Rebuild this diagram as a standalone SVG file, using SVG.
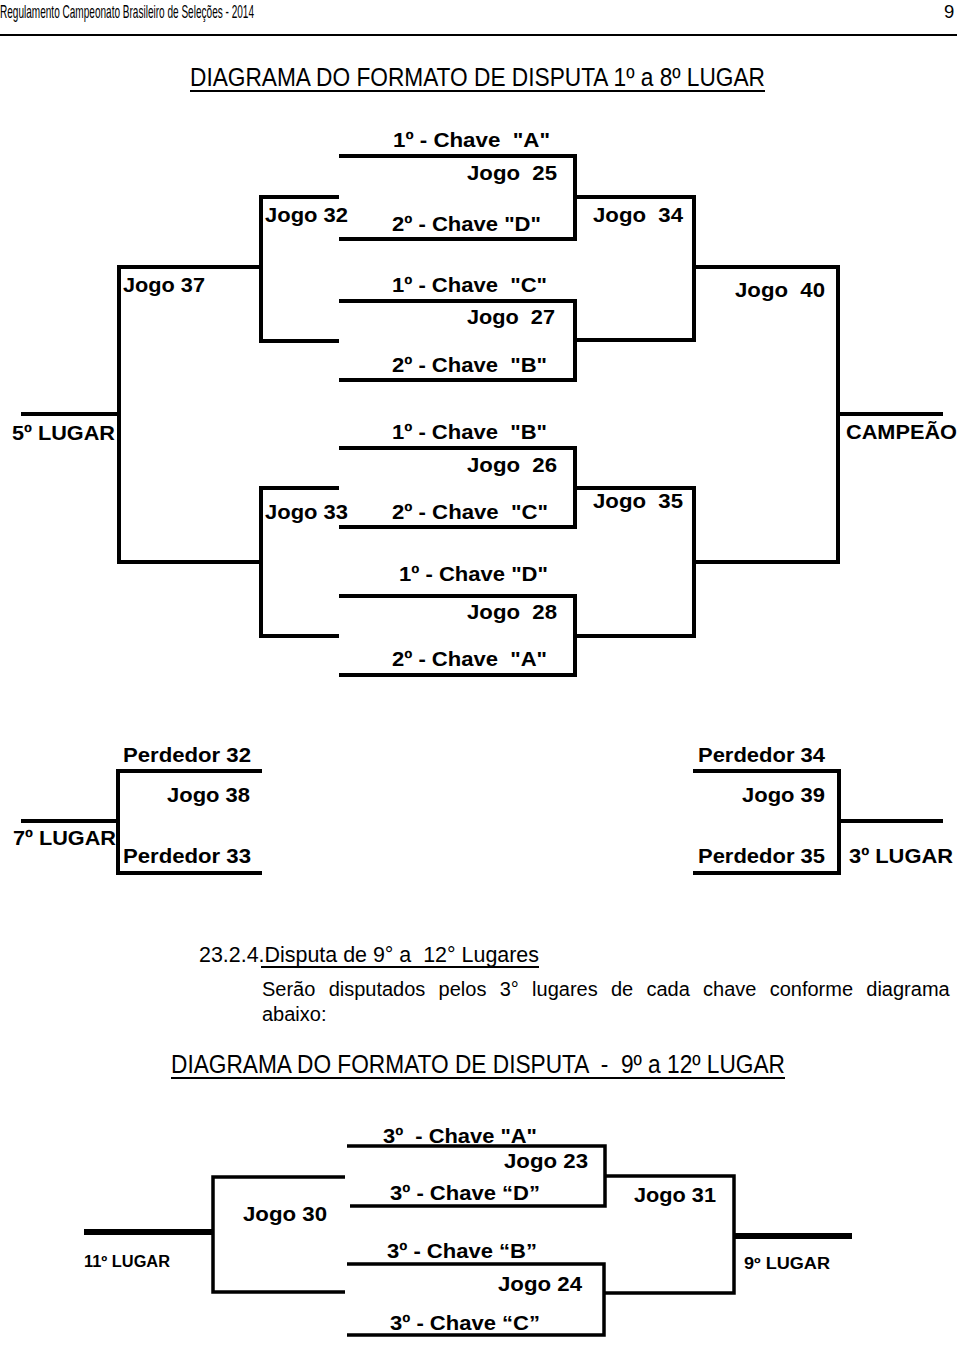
<svg xmlns="http://www.w3.org/2000/svg" width="960" height="1367" viewBox="0 0 960 1367">
<style>
.t{font-family:"Liberation Sans",Arial,sans-serif;font-weight:bold;font-size:20px;fill:#000;white-space:pre}
.s{font-size:16px}
.h{font-family:"Liberation Sans",Arial,sans-serif;font-weight:normal;fill:#000;white-space:pre}
.c{fill:none;stroke:#000;stroke-width:4;stroke-linejoin:miter}
.c2{fill:none;stroke:#000;stroke-width:3.5;stroke-linejoin:miter}
.k{fill:none;stroke:#000;stroke-width:6}
.u{stroke:#000;stroke-width:2}
</style>
<rect width="960" height="1367" fill="#fff"/>
<g id="header">
<text class="h" x="0" y="18" font-size="18.5" textLength="254" lengthAdjust="spacingAndGlyphs">Regulamento Campeonato Brasileiro de Seleções - 2014</text>
<text class="h" x="944" y="18" font-size="18.5">9</text>
<line class="u" x1="0" y1="35" x2="957" y2="35"/>
<text class="h" x="190" y="86" font-size="25" textLength="575" lengthAdjust="spacingAndGlyphs">DIAGRAMA DO FORMATO DE DISPUTA 1º a 8º LUGAR</text>
<line class="u" x1="190" y1="91" x2="765" y2="91"/>
</g>
<g id="connectors">
<polyline class="c" points="339,156 575,156 575,239 339,239"/>
<polyline class="c" points="339,301 575,301 575,380 339,380"/>
<polyline class="c" points="339,448 575,448 575,527 339,527"/>
<polyline class="c" points="339,596 575,596 575,675 339,675"/>
<polyline class="c" points="339,197 261,197 261,341 339,341"/>
<polyline class="c" points="339,488 261,488 261,636 339,636"/>
<polyline class="c" points="261,267 119,267 119,562 261,562"/>
<line class="c" x1="21" y1="414" x2="119" y2="414"/>
<polyline class="c" points="575,197 694,197 694,340 575,340"/>
<polyline class="c" points="575,488 694,488 694,636 575,636"/>
<polyline class="c" points="694,267 838,267 838,562 694,562"/>
<line class="c" x1="838" y1="414" x2="943" y2="414"/>
<polyline class="c" points="262,771 118,771 118,873 262,873"/>
<line class="c" x1="21" y1="821" x2="118" y2="821"/>
<polyline class="c" points="693,771 839,771 839,873 693,873"/>
<line class="c" x1="839" y1="821" x2="943" y2="821"/>
<polyline class="c2" points="347,1146 605,1146 605,1206 350,1206"/>
<polyline class="c2" points="347,1264 604,1264 604,1335 347,1335"/>
<polyline class="c2" points="345,1177 213,1177 213,1292 345,1292"/>
<line class="k" x1="84" y1="1232" x2="213" y2="1232"/>
<polyline class="c2" points="605,1176 734,1176 734,1293 604,1293"/>
<line class="k" x1="734" y1="1236" x2="852" y2="1236"/>
</g>
<g id="jogo25">
<text class="t" x="393" y="147" textLength="157" lengthAdjust="spacingAndGlyphs">1º - Chave  "A"</text>
<text class="t" x="467" y="180" textLength="90" lengthAdjust="spacingAndGlyphs">Jogo  25</text>
<text class="t" x="392" y="231" textLength="149" lengthAdjust="spacingAndGlyphs">2º - Chave "D"</text>
</g>
<g id="jogo27">
<text class="t" x="392" y="292" textLength="155" lengthAdjust="spacingAndGlyphs">1º - Chave  "C"</text>
<text class="t" x="467" y="324" textLength="88" lengthAdjust="spacingAndGlyphs">Jogo  27</text>
<text class="t" x="392" y="372" textLength="155" lengthAdjust="spacingAndGlyphs">2º - Chave  "B"</text>
</g>
<g id="jogo26">
<text class="t" x="392" y="439" textLength="155" lengthAdjust="spacingAndGlyphs">1º - Chave  "B"</text>
<text class="t" x="467" y="472" textLength="90" lengthAdjust="spacingAndGlyphs">Jogo  26</text>
<text class="t" x="392" y="519" textLength="156" lengthAdjust="spacingAndGlyphs">2º - Chave  "C"</text>
</g>
<g id="jogo28">
<text class="t" x="399" y="581" textLength="149" lengthAdjust="spacingAndGlyphs">1º - Chave "D"</text>
<text class="t" x="467" y="619" textLength="90" lengthAdjust="spacingAndGlyphs">Jogo  28</text>
<text class="t" x="392" y="666" textLength="155" lengthAdjust="spacingAndGlyphs">2º - Chave  "A"</text>
</g>
<g id="jogo32"><text class="t" x="265" y="222" textLength="83" lengthAdjust="spacingAndGlyphs">Jogo 32</text></g>
<g id="jogo33"><text class="t" x="265" y="519" textLength="83" lengthAdjust="spacingAndGlyphs">Jogo 33</text></g>
<g id="jogo34"><text class="t" x="593" y="222" textLength="90" lengthAdjust="spacingAndGlyphs">Jogo  34</text></g>
<g id="jogo35"><text class="t" x="593" y="508" textLength="90" lengthAdjust="spacingAndGlyphs">Jogo  35</text></g>
<g id="jogo37"><text class="t" x="123" y="292" textLength="82" lengthAdjust="spacingAndGlyphs">Jogo 37</text></g>
<g id="jogo40"><text class="t" x="735" y="297" textLength="90" lengthAdjust="spacingAndGlyphs">Jogo  40</text></g>
<g id="lugar5"><text class="t" x="12" y="440" textLength="103" lengthAdjust="spacingAndGlyphs">5º LUGAR</text></g>
<g id="campeao"><text class="t" x="846" y="439" textLength="111" lengthAdjust="spacingAndGlyphs">CAMPEÃO</text></g>
<g id="jogo38">
<text class="t" x="123" y="762" textLength="128" lengthAdjust="spacingAndGlyphs">Perdedor 32</text>
<text class="t" x="167" y="802" textLength="83" lengthAdjust="spacingAndGlyphs">Jogo 38</text>
<text class="t" x="123" y="863" textLength="128" lengthAdjust="spacingAndGlyphs">Perdedor 33</text>
</g>
<g id="lugar7"><text class="t" x="13" y="845" textLength="103" lengthAdjust="spacingAndGlyphs">7º LUGAR</text></g>
<g id="jogo39">
<text class="t" x="698" y="762" textLength="127" lengthAdjust="spacingAndGlyphs">Perdedor 34</text>
<text class="t" x="742" y="802" textLength="83" lengthAdjust="spacingAndGlyphs">Jogo 39</text>
<text class="t" x="698" y="863" textLength="127" lengthAdjust="spacingAndGlyphs">Perdedor 35</text>
</g>
<g id="lugar3"><text class="t" x="849" y="863" textLength="104" lengthAdjust="spacingAndGlyphs">3º LUGAR</text></g>
<g id="section">
<text class="h" x="199" y="962" font-size="21.5" textLength="340" lengthAdjust="spacingAndGlyphs">23.2.4.Disputa de 9° a  12° Lugares</text>
<line class="u" x1="261" y1="967" x2="539" y2="967"/>
<text class="h" x="262" y="996" font-size="20" word-spacing="7.7">Serão disputados pelos 3° lugares de cada chave conforme diagrama</text>
<text class="h" x="262" y="1021" font-size="20">abaixo:</text>
<text class="h" x="171" y="1073" font-size="25" textLength="614" lengthAdjust="spacingAndGlyphs">DIAGRAMA DO FORMATO DE DISPUTA  -  9º a 12º LUGAR</text>
<line class="u" x1="171" y1="1078" x2="785" y2="1078"/>
</g>
<g id="jogo23">
<text class="t" x="383" y="1143" textLength="154" lengthAdjust="spacingAndGlyphs">3º  - Chave "A"</text>
<text class="t" x="504" y="1168" textLength="84" lengthAdjust="spacingAndGlyphs">Jogo 23</text>
<text class="t" x="390" y="1200" textLength="150" lengthAdjust="spacingAndGlyphs">3º - Chave “D”</text>
</g>
<g id="jogo24">
<text class="t" x="387" y="1258" textLength="150" lengthAdjust="spacingAndGlyphs">3º - Chave “B”</text>
<text class="t" x="498" y="1291" textLength="84" lengthAdjust="spacingAndGlyphs">Jogo 24</text>
<text class="t" x="390" y="1330" textLength="150" lengthAdjust="spacingAndGlyphs">3º - Chave “C”</text>
</g>
<g id="jogo30"><text class="t" x="243" y="1221" textLength="84" lengthAdjust="spacingAndGlyphs">Jogo 30</text></g>
<g id="jogo31"><text class="t" x="634" y="1202" textLength="82" lengthAdjust="spacingAndGlyphs">Jogo 31</text></g>
<g id="lugar11"><text class="t s" x="84" y="1267" textLength="86" lengthAdjust="spacingAndGlyphs">11º LUGAR</text></g>
<g id="lugar9"><text class="t s" x="744" y="1269" textLength="86" lengthAdjust="spacingAndGlyphs">9º LUGAR</text></g>
</svg>
